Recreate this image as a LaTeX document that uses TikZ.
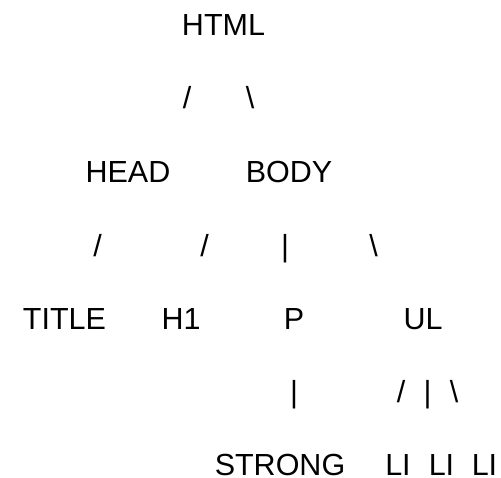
\documentclass[tikz,border=0pt]{standalone}
\usepackage{fontspec}
\setmainfont{Liberation Sans}
\usepackage{tikz}
\tikzstyle{tag} = [inner sep=0pt, anchor=base, font=\fontsize{30.5}{36}\selectfont]
\tikzstyle{link} = [inner sep=0pt, anchor=base, font=\fontsize{30.5}{36}\selectfont]

\begin{document}
\begin{tikzpicture}[x=1pt, y=-1pt]
		\useasboundingbox (0,0) rectangle (501,477);
		\node (html) [tag] at (223.5,35) {HTML};
		\node (htmlhead) [link] at (187,108) {/};
		\node (htmlbody) [link] at (250,108) {\textbackslash};
		\node (head) [tag] at (128,182) {HEAD};
		\node (body) [tag] at (289,182) {BODY};
		\node (headtitle) [link] at (97.5,256) {/};
		\node (bodyhone) [link] at (204.5,256) {/};
		\node (bodyp) [link] at (285,256) {\textbar};
		\node (bodyul) [link] at (373.5,256) {\textbackslash};
		\node (title) [tag] at (64.5,329) {TITLE};
		\node (hone) [tag] at (181,329) {H1};
		\node (p) [tag] at (294,329) {P};
		\node (ul) [tag] at (423,329) {UL};
		\node (pstrong) [link] at (294,402) {\textbar};
		\node (ullia) [link] at (401,402) {/};
		\node (ullib) [link] at (427.5,402) {\textbar};
		\node (ullic) [link] at (454,402) {\textbackslash};
		\node (strong) [tag] at (280,475) {STRONG};
		\node (lia) [tag] at (398,475) {LI};
		\node (lib) [tag] at (441.5,475) {LI};
		\node (lic) [tag] at (484.5,475) {LI};
	\end{tikzpicture}
\end{document}
